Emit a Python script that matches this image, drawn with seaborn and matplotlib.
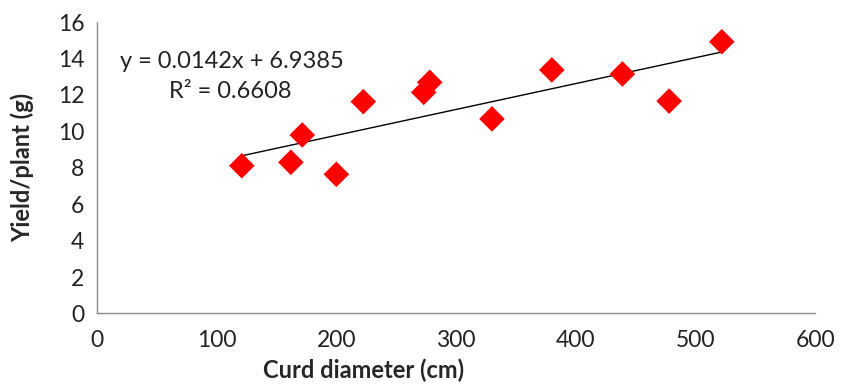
import numpy as np
import pandas as pd
import matplotlib
matplotlib.use("Agg")
import matplotlib.pyplot as plt
import seaborn as sns

curd_diameter = [121, 162, 171.5, 200, 222.5, 273, 278, 330, 380, 439, 478, 522]
yield_plant = [8.11, 8.30, 9.80, 7.64, 11.63, 12.14, 12.69, 10.68, 13.37, 13.15, 11.66, 14.92]
x_ticks = [0, 100, 200, 300, 400, 500, 600]
y_ticks = [0, 2, 4, 6, 8, 10, 12, 14, 16]
equation_text = "y = 0.0142x + 6.9385"
r2_text = "R² = 0.6608"

df = pd.DataFrame({"Curd diameter (cm)": curd_diameter, "Yield/plant (g)": yield_plant})

sns.set_style("white")
plt.rcParams['font.family'] = ['Lato', 'DejaVu Sans']

fig = plt.figure(figsize=(8.43, 3.87), dpi=100)
ax = fig.add_axes([0.115, 0.19, 0.852, 0.753])

sns.regplot(data=df, x="Curd diameter (cm)", y="Yield/plant (g)", ax=ax, ci=None,
            truncate=True, marker="D",
            scatter_kws=dict(s=170, color="#ff0000", edgecolor="none", alpha=1, zorder=3),
            line_kws=dict(color="black", linewidth=1, zorder=2))

ax.set_xlim(0, 600)
ax.set_ylim(0, 16)
ax.set_xticks(x_ticks)
ax.set_yticks(y_ticks)
ax.tick_params(axis="both", labelsize=16.5, colors="#222222", direction="out", length=5, width=1,
               color="#8c8c8c", pad=4)
ax.tick_params(axis="x", pad=7)
for s in ["top", "right"]:
    ax.spines[s].set_visible(False)
for s in ["left", "bottom"]:
    ax.spines[s].set_color("#8c8c8c")
    ax.spines[s].set_linewidth(1)

ax.set_xlabel("Curd diameter (cm)", fontsize=17, fontweight="bold")
ax.xaxis.set_label_coords((364 - 97) / 718, -(358 - 313) / 291)
ax.set_ylabel("Yield/plant (g)", fontsize=17, fontweight="bold")
ax.yaxis.set_label_coords((34 - 97) / 718, 0.5)

ax.text(0.032, 0.865, equation_text, transform=ax.transAxes, fontsize=17, ha="left", va="center", color="#222222")
ax.text(0.101, 0.76, r2_text, transform=ax.transAxes, fontsize=17, ha="left", va="center", color="#222222")

fig.savefig("out.png", dpi=100)
